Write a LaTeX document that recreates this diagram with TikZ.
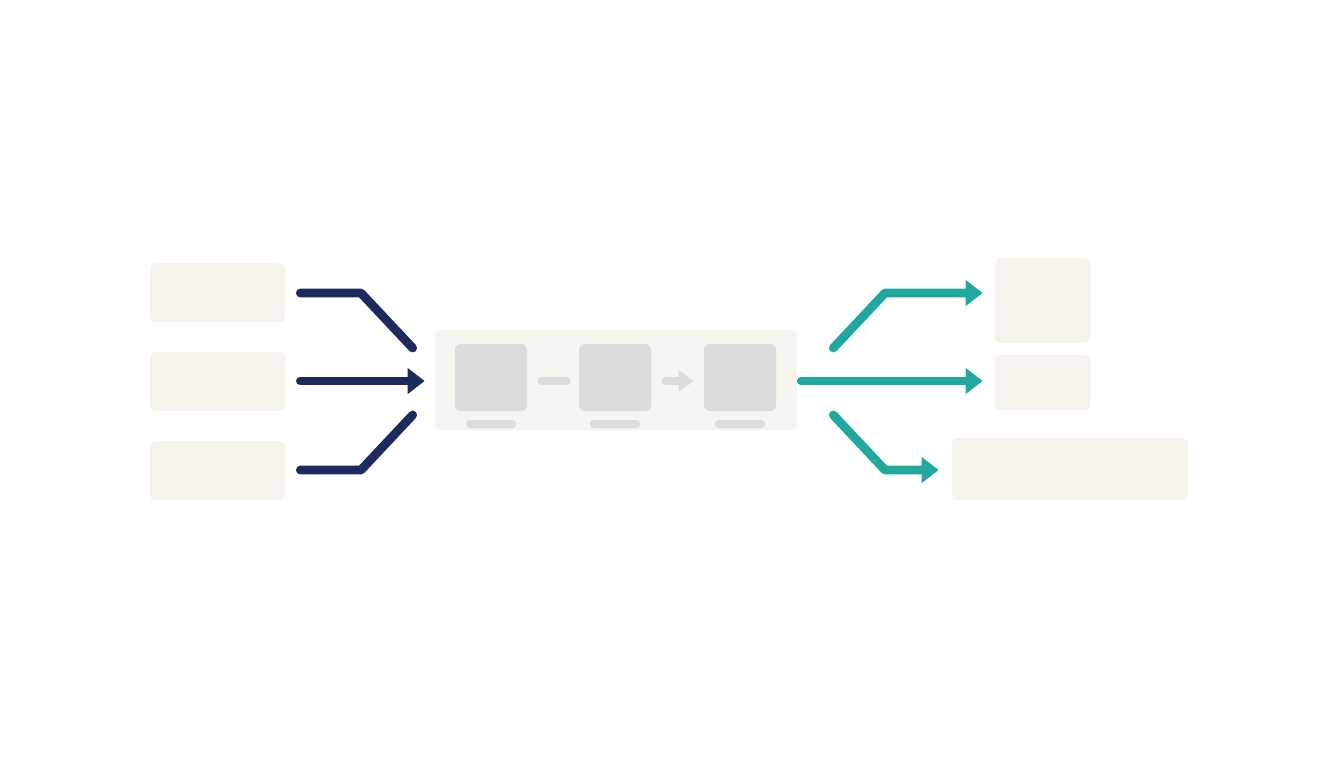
\documentclass[tikz,border=0pt]{standalone}
\usepackage{tikz}
\usetikzlibrary{arrows.meta, positioning, calc}

\definecolor{navyline}{HTML}{1C2A5E}
\definecolor{tealline}{HTML}{20A89E}
\definecolor{cardfill}{HTML}{F5F3EC}
\definecolor{panelfill}{HTML}{F6F5F0}
\definecolor{stepgray}{HTML}{DCDCDC}

\tikzset{
    card/.style={fill=cardfill, rounded corners=3pt, inner sep=0pt},
    stepcard/.style={fill=stepgray, rounded corners=3pt, inner sep=0pt,
        minimum width=72*0.02cm, minimum height=67*0.02cm},
    stepbar/.style={fill=stepgray, rounded corners=2pt, inner sep=0pt,
        minimum width=50*0.02cm, minimum height=8*0.02cm},
    inflow/.style={draw=navyline, line width=5pt, line cap=round, line join=round},
    outflow/.style={draw=tealline, line width=5pt, line cap=round, line join=round},
    bigtip/.style={-{Triangle[length=0.34cm, width=0.5cm]}}
}

\begin{document}
\begin{tikzpicture}[x=0.02cm, y=-0.02cm]
    \useasboundingbox[fill=white] (0,0) rectangle (1344,768);
    % Left side: input cards
    \node[card, minimum width=135*0.02cm, minimum height=59*0.02cm] (in1) at (217.5,292.5) {};
    \node[card, minimum width=135*0.02cm, minimum height=59*0.02cm] (in2) at (217.5,381.5) {};
    \node[card, minimum width=135*0.02cm, minimum height=59*0.02cm] (in3) at (217.5,470.5) {};
    % Middle: process panel
    \node[fill=panelfill, rounded corners=4pt, inner sep=0pt,
        minimum width=362*0.02cm, minimum height=100*0.02cm] (core) at (616,380) {};
    \node[stepcard] (s1) at (491,377.5) {};
    \node[stepcard] (s2) at (615,377.5) {};
    \node[stepcard] (s3) at (740,377.5) {};
    \node[stepbar] (b1) at (491,424) {};
    \node[stepbar] (b2) at (615,424) {};
    \node[stepbar] (b3) at (740,424) {};
    \draw[stepgray, line width=4.5pt, line cap=round] ($(s1.east)+(14,3.5)$) -- ($(s2.west)+(-12,3.5)$);
    \draw[stepgray, line width=4.5pt, line cap=round, -{Triangle[length=0.3cm, width=0.42cm]}]
        ($(s2.east)+(14,3.5)$) -- ($(s3.west)+(-10,3.5)$);
    % Right side: output cards
    \node[card, minimum width=95*0.02cm, minimum height=85*0.02cm] (out1) at (1042.5,300.5) {};
    \node[card, minimum width=95*0.02cm, minimum height=55*0.02cm] (out2) at (1042.5,382.5) {};
    \node[card, minimum width=236*0.02cm, minimum height=62*0.02cm] (out3) at (1070,469) {};
    % Inflow arrows
    \coordinate (j1) at (361,293);
    \coordinate (j3) at (361,470);
    \draw[inflow] ($(in1.east)+(15,0.5)$) -- (j1) -- ($(core.west)+(-22,-32)$);
    \draw[inflow, bigtip] ($(in2.east)+(15,-0.5)$) -- ($(core.west)+(-10,1)$);
    \draw[inflow] ($(in3.east)+(15,-0.5)$) -- (j3) -- ($(core.west)+(-22,35)$);
    % Outflow arrows
    \coordinate (k1) at (885,293);
    \coordinate (k3) at (885,470);
    \draw[outflow, bigtip] ($(core.east)+(36,-32)$) -- (k1) -- ($(out1.west)+(-12,-7.5)$);
    \draw[outflow, bigtip] ($(core.east)+(4,1)$) -- ($(out2.west)+(-12,-1.5)$);
    \draw[outflow, bigtip] ($(core.east)+(36,35)$) -- (k3) -- ($(out3.west)+(-13,1)$);
\end{tikzpicture}
\end{document}
